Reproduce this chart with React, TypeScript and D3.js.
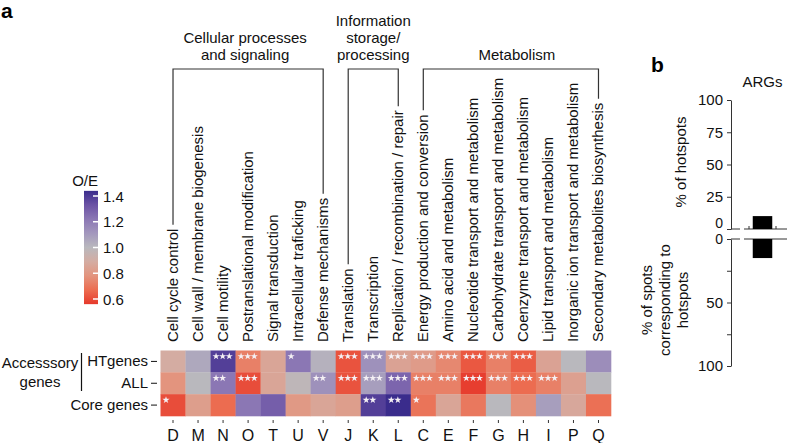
import React, { useEffect, useRef } from 'react';
import * as d3 from 'd3';

const codes = ['D', 'M', 'N', 'O', 'T', 'U', 'V', 'J', 'K', 'L', 'C', 'E', 'F', 'G', 'H', 'I', 'P', 'Q'];
const names = [
  'Cell cycle control',
  'Cell wall / membrane biogenesis',
  'Cell motility',
  'Postranslational modification',
  'Signal transduction',
  'Intracellular traficking',
  'Defense mechanisms',
  'Translation',
  'Transcription',
  'Replication / recombination / repair',
  'Energy production and conversion',
  'Amino acid and metabolism',
  'Nucleotide transport and metabolism',
  'Carbohydrate transport and metabolism',
  'Coenzyme transport and metabolism',
  'Lipid transport and metabolism',
  'Inorganic ion transport and metabolism',
  'Secondary metabolites biosynthesis',
];
const rowNames = ['HTgenes', 'ALL', 'Core genes'];
const htValues = [0.9, 1.05, 1.35, 0.75, 0.87, 1.2, 1.02, 0.65, 1.12, 0.86, 0.83, 0.77, 0.66, 0.75, 0.67, 0.86, 1.0, 1.13];
const allValues = [0.8, 1.0, 1.2, 0.64, 0.87, 0.98, 1.12, 0.65, 1.08, 1.25, 0.75, 0.75, 0.61, 0.75, 0.7, 0.75, 0.85, 1.0];
const coreValues = [0.64, 0.84, 0.7, 1.2, 1.27, 0.82, 0.87, 0.84, 1.35, 1.4, 0.72, 0.87, 0.73, 1.0, 0.79, 1.08, 0.88, 0.71];
const htStars = [0, 0, 3, 3, 0, 1, 0, 3, 3, 3, 3, 3, 3, 3, 3, 0, 0, 0];
const allStars = [0, 0, 2, 3, 0, 0, 2, 3, 3, 3, 3, 3, 3, 3, 3, 3, 0, 0];
const coreStars = [1, 0, 0, 0, 0, 0, 0, 0, 2, 2, 1, 0, 0, 0, 0, 0, 0, 0];
const groupTitles = [['Cellular processes', 'and signaling'], ['Information', 'storage/', 'processing'], ['Metabolism']];
const groupFrom = ['D', 'J', 'C'];
const groupTo = ['V', 'L', 'Q'];
const legendTicks = [1.4, 1.2, 1.0, 0.8, 0.6];
const colorStops = [0.6, 0.7, 0.8, 0.9, 1.0, 1.1, 1.2, 1.3, 1.4];
const colorRange = ['#e6392b', '#ec6c50', '#e3947e', '#d4aca2', '#b9b8bd', '#a397bd', '#8b77b4', '#6c53a5', '#3a2c8c'];
const argCategories = ['ARGs'];
const argHotspots = [10];
const argSpots = [15];
const topTicks = [0, 25, 50, 75, 100];
const bottomTicks = [0, 25, 50, 75, 100];
const bottomTickLabels = [0, 50, 100];

const FONT = '"Liberation Sans", Arial, Helvetica, sans-serif';

export default function App() {
  const ref = useRef<SVGSVGElement | null>(null);

  useEffect(() => {
    const svg = d3.select(ref.current);
    svg.selectAll('*').remove();
    svg.attr('font-family', FONT);

    const color = d3.scaleLinear<string>().domain(colorStops).range(colorRange).clamp(true);

    // ---------- Panel a ----------
    svg.append('text').attr('x', 1).attr('y', 18).attr('font-size', 21).attr('font-weight', 'bold').text('a');

    const x = d3.scaleBand<string>().domain(codes).range([160.5, 611]);
    const y = d3.scaleBand<string>().domain(rowNames).range([350.5, 416]);
    const bw = x.bandwidth();
    const bh = y.bandwidth();

    const rowsData = [htValues, allValues, coreValues];
    const starsData = [htStars, allStars, coreStars];
    const star = d3.symbol().type(d3.symbolStar).size(16);

    rowNames.forEach((r, ri) => {
      codes.forEach((c, ci) => {
        svg.append('rect')
          .attr('x', x(c)!)
          .attr('y', y(r)!)
          .attr('width', bw + 0.3)
          .attr('height', bh + 0.3)
          .attr('fill', color(rowsData[ri][ci]));
        const n = starsData[ri][ci];
        for (let k = 0; k < n; k++) {
          svg.append('path')
            .attr('d', star()!)
            .attr('transform', `translate(${x(c)! + 5.5 + k * 6.6},${y(r)! + 5.8})`)
            .attr('fill', '#f4f0f4');
        }
      });
    });

    // bottom letters and ticks
    codes.forEach((c) => {
      const cx = x(c)! + bw / 2;
      svg.append('line').attr('x1', cx).attr('x2', cx).attr('y1', 420).attr('y2', 423).attr('stroke', '#333').attr('stroke-width', 1);
      svg.append('text').attr('x', cx).attr('y', 441).attr('text-anchor', 'middle').attr('font-size', 16).attr('fill', '#111').text(c);
    });

    // row labels
    rowNames.forEach((r) => {
      const cy = y(r)! + bh / 2;
      svg.append('text').attr('x', 148).attr('y', cy + 5).attr('text-anchor', 'end').attr('font-size', 15).attr('fill', '#111').text(r);
      svg.append('line').attr('x1', 151).attr('x2', 157).attr('y1', cy).attr('y2', cy).attr('stroke', '#111').attr('stroke-width', 1);
    });
    svg.append('text').attr('x', 40).attr('y', 368).attr('text-anchor', 'middle').attr('font-size', 15).attr('fill', '#111').text('Accesssory');
    svg.append('text').attr('x', 40).attr('y', 387).attr('text-anchor', 'middle').attr('font-size', 15).attr('fill', '#111').text('genes');
    svg.append('line').attr('x1', 81.5).attr('x2', 81.5).attr('y1', 353).attr('y2', 391).attr('stroke', '#111').attr('stroke-width', 1.2);

    // column labels
    const labelBottom = 342;
    const tops: Record<string, number> = {};
    codes.forEach((c, i) => {
      const cx = x(c)! + bw / 2;
      const t = svg.append('text')
        .attr('transform', `translate(${cx + 5},${labelBottom}) rotate(-90)`)
        .attr('font-size', 15)
        .attr('fill', '#111')
        .text(names[i]);
      const len = (t.node() as SVGTextElement).getComputedTextLength();
      tops[c] = labelBottom - len;
    });

    // brackets
    const bracketY = 69;
    const titleShift = [-3, 0, 6];
    groupTitles.forEach((lines, gi) => {
      const x1 = x(groupFrom[gi])! + bw / 2;
      const x2 = x(groupTo[gi])! + bw / 2;
      const path = d3.path();
      path.moveTo(x1, tops[groupFrom[gi]] - 4);
      path.lineTo(x1, bracketY);
      path.lineTo(x2, bracketY);
      path.lineTo(x2, tops[groupTo[gi]] - 4);
      svg.append('path').attr('d', path.toString()).attr('fill', 'none').attr('stroke', '#333').attr('stroke-width', 1.2);
      const mid = (x1 + x2) / 2 + titleShift[gi];
      lines.forEach((ln, li) => {
        svg.append('text')
          .attr('x', mid)
          .attr('y', 60 - (lines.length - 1 - li) * 17)
          .attr('text-anchor', 'middle')
          .attr('font-size', 15)
          .attr('fill', '#111')
          .text(ln);
      });
    });

    // legend
    const ly = d3.scaleLinear().domain([0.6, 1.4]).range([299, 196]);
    const defs = svg.append('defs');
    const grad = defs.append('linearGradient').attr('id', 'oeGrad').attr('x1', 0).attr('x2', 0).attr('y1', 1).attr('y2', 0);
    colorStops.forEach((v, i) => {
      grad.append('stop').attr('offset', (v - 0.6) / 0.8).attr('stop-color', colorRange[i]);
    });
    const lx0 = 84, lx1 = 98;
    svg.append('rect').attr('x', lx0).attr('y', ly(1.44)).attr('width', lx1 - lx0).attr('height', ly(0.56) - ly(1.44)).attr('fill', 'url(#oeGrad)');
    legendTicks.forEach((v) => {
      svg.append('line').attr('x1', lx1 - 5).attr('x2', lx1).attr('y1', ly(v)).attr('y2', ly(v)).attr('stroke', '#fff').attr('stroke-width', 1.5);
      svg.append('text').attr('x', 103).attr('y', ly(v) + 5.5).attr('font-size', 15).attr('fill', '#111').text(v.toFixed(1));
    });
    svg.append('text').attr('x', 98).attr('y', 186).attr('text-anchor', 'end').attr('font-size', 15).attr('fill', '#111').text('O/E');

    // ---------- Panel b ----------
    svg.append('text').attr('x', 651).attr('y', 72).attr('font-size', 21).attr('font-weight', 'bold').text('b');
    const xb = d3.scaleBand<string>().domain(argCategories).range([743, 782]).paddingOuter(0.5);
    svg.append('text').attr('x', xb('ARGs')! + xb.bandwidth() / 2).attr('y', 87).attr('text-anchor', 'middle').attr('font-size', 15).attr('fill', '#111').text('ARGs');

    const axX = 731;
    const topY = d3.scaleLinear().domain([0, 100]).range([229, 100]);
    const botY = d3.scaleLinear().domain([0, 100]).range([239, 366]);

    const topAxis = svg.append('g').attr('transform', `translate(${axX},0)`)
      .call(d3.axisLeft(topY).tickValues(topTicks).tickSize(4).tickPadding(4).tickSizeOuter(0));
    topAxis.selectAll('text').attr('font-size', 15).attr('font-family', FONT).attr('fill', '#111');
    topAxis.selectAll('line,path').attr('stroke', '#333');
    topAxis.selectAll<SVGTextElement, number>('text').filter((d) => d === 0).attr('y', -6).attr('font-size', 14);

    const botAxis = svg.append('g').attr('transform', `translate(${axX},0)`)
      .call(d3.axisLeft(botY).tickValues(bottomTicks).tickSize(4).tickPadding(4).tickSizeOuter(0)
        .tickFormat((d) => (bottomTickLabels.includes(d as number) ? String(d) : '')));
    botAxis.selectAll('text').attr('font-size', 15).attr('font-family', FONT).attr('fill', '#111');
    botAxis.selectAll('line,path').attr('stroke', '#333');
    botAxis.selectAll<SVGTextElement, number>('text').filter((d) => d === 0).attr('y', 0.5).attr('font-size', 14);

    // zero lines
    [topY(0), botY(0)].forEach((yy) => {
      svg.append('line').attr('x1', axX).attr('x2', 740).attr('y1', yy).attr('y2', yy).attr('stroke', '#333');
      svg.append('line').attr('x1', 744).attr('x2', 787).attr('y1', yy).attr('y2', yy).attr('stroke', '#333');
    });
    [749, 776].forEach((tx) => {
      svg.append('line').attr('x1', tx).attr('x2', tx).attr('y1', topY(0)).attr('y2', topY(0) - 3).attr('stroke', '#333');
    });

    argCategories.forEach((c, i) => {
      svg.append('rect').attr('x', xb(c)!).attr('width', xb.bandwidth())
        .attr('y', topY(argHotspots[i])).attr('height', topY(0) - topY(argHotspots[i])).attr('fill', '#000');
      svg.append('rect').attr('x', xb(c)!).attr('width', xb.bandwidth())
        .attr('y', botY(0)).attr('height', botY(argSpots[i]) - botY(0)).attr('fill', '#000');
    });

    svg.append('text').attr('transform', 'translate(686,162) rotate(-90)').attr('text-anchor', 'middle').attr('font-size', 15).attr('fill', '#111').text('% of hotspots');
    const botLines = ['% of spots', 'corresponding to', 'hotspots'];
    botLines.forEach((ln, i) => {
      svg.append('text').attr('transform', `translate(${652 + i * 18},300) rotate(-90)`).attr('text-anchor', 'middle').attr('font-size', 15).attr('fill', '#111').text(ln);
    });
  }, []);

  return (
    <svg ref={ref} width={787} height={443} style={{ position: 'absolute', left: 0, top: 0, background: '#fff' }} />
  );
}
